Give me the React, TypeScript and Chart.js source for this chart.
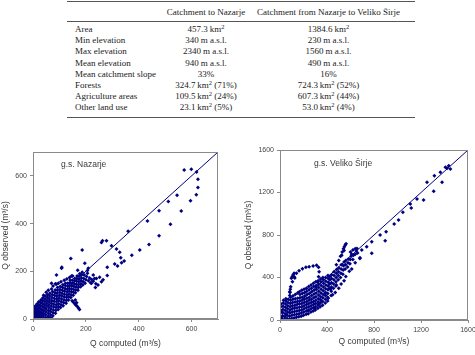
import { useEffect, useRef } from "react";
import { Chart, registerables } from "chart.js";

Chart.register(...registerables);

const NAVY = "#000080";
const AXIS_GREY = "#8a8a8a";
const TEXT_GREY = "#3a3a3a";

// ---- catchment characteristics table ----
const tableHeaders = ["Catchment to Nazarje", "Catchment from Nazarje to Veliko Širje"];
const rowLabels = [
  "Area",
  "Min elevation",
  "Max elevation",
  "Mean elevation",
  "Mean catchment slope",
  "Forests",
  "Agriculture areas",
  "Other land use",
];
const nazarjeStats = [
  "457.3\u2009km²",
  "340\u2009m a.s.l.",
  "2340\u2009m a.s.l.",
  "940\u2009m a.s.l.",
  "33%",
  "324.7\u2009km² (71%)",
  "109.5\u2009km² (24%)",
  "23.1\u2009km² (5%)",
];
const velikoStats = [
  "1384.6\u2009km²",
  "230\u2009m a.s.l.",
  "1560\u2009m a.s.l.",
  "490\u2009m a.s.l.",
  "16%",
  "724.3\u2009km² (52%)",
  "607.3\u2009km² (44%)",
  "53.0\u2009km² (4%)",
];

// ---- discharge scatter data: [Q computed, Q observed] in m3/s ----
const stationNames = ["g.s. Nazarje", "g.s. Veliko Širje"];
const axisMax = [700, 1600];
const axisStep = [200, 400];

const nazarjePairs: number[][] = [
  [1, 2], [2, 10], [3, 20], [2, 30], [4, 40], [3, 50], [6, 5], [7, 15], [8, 26], [8, 36], [9, 46], [10, 56],
  [11, 3], [12, 12], [12, 22], [14, 32], [15, 42], [15, 54], [16, 64], [17, 6], [18, 16], [19, 26], [20, 36],
  [21, 48], [22, 60], [22, 72], [24, 2], [24, 12], [26, 22], [26, 32], [27, 44], [28, 56], [29, 68], [30, 80],
  [31, 8], [32, 18], [33, 28], [34, 40], [35, 52], [36, 64], [36, 76], [37, 88], [38, 3], [39, 14], [40, 24],
  [41, 36], [42, 48], [43, 60], [44, 72], [45, 84], [46, 96], [47, 6], [48, 18], [49, 30], [50, 42], [51, 54],
  [52, 66], [53, 78], [54, 90], [55, 102], [56, 2], [57, 12], [58, 24], [59, 36], [60, 48], [60, 60], [61, 72],
  [62, 84], [63, 96], [64, 108], [65, 6], [66, 18], [67, 30], [68, 42], [69, 54], [70, 66], [71, 78], [72, 90],
  [73, 102], [74, 114], [75, 14], [76, 26], [77, 38], [78, 50], [79, 62], [80, 74], [81, 86], [82, 98], [83, 110],
  [84, 122], [85, 24], [86, 36], [87, 48], [88, 60], [89, 72], [90, 84], [90, 96], [91, 108], [92, 120], [93, 132],
  [95, 40], [96, 52], [97, 64], [98, 76], [99, 88], [100, 100], [101, 112], [102, 124], [103, 136], [104, 48],
  [106, 60], [107, 72], [108, 84], [109, 96], [110, 108], [111, 120], [112, 132], [113, 144], [114, 56], [116, 68],
  [117, 80], [118, 92], [119, 104], [120, 116], [121, 128], [122, 140], [123, 150], [125, 66], [126, 78], [127, 90],
  [128, 102], [129, 114], [130, 126], [131, 138], [132, 150], [134, 80], [135, 92], [136, 104], [137, 116],
  [138, 128], [139, 140], [140, 152], [141, 162], [143, 90], [144, 102], [145, 114], [146, 126], [147, 138],
  [148, 150], [149, 162], [152, 100], [153, 112], [154, 124], [155, 136], [156, 148], [157, 160], [158, 170],
  [160, 110], [162, 122], [163, 134], [164, 146], [165, 158], [166, 170], [167, 180], [170, 120], [171, 132],
  [172, 144], [173, 156], [174, 168], [175, 180], [177, 190], [180, 135], [181, 148], [182, 160], [183, 172],
  [184, 184], [186, 196], [188, 142], [190, 156], [192, 170], [194, 184], [197, 150], [200, 165], [203, 178],
  [206, 192], [210, 160], [214, 172], [218, 152], [222, 166], [228, 158], [233, 170], [238, 148], [236, 132],
  [148, 76], [153, 70], [158, 64], [163, 58], [168, 52], [172, 46], [176, 40], [160, 80], [165, 68],
  [40, 100], [50, 112], [58, 120], [70, 126], [76, 138], [88, 146], [96, 150], [106, 156], [118, 162],
  [128, 168], [138, 174], [150, 180], [50, 0], [60, 2], [70, 4], [70, 150], [85, 148],
  [89, 184], [109, 217], [108, 213], [143, 254], [186, 289], [146, 180], [169, 204], [196, 234], [209, 213],
  [228, 184], [246, 143], [259, 156], [221, 150], [240, 170], [252, 175], [265, 165], [206, 203],
  [263, 328], [278, 328], [259, 321], [297, 307], [316, 293], [328, 280], [332, 257], [345, 243], [335, 236],
  [320, 222], [309, 231], [281, 217], [281, 182], [374, 267], [404, 289], [439, 312], [477, 349], [360, 368],
  [433, 411], [520, 397], [477, 454], [561, 453], [512, 492], [545, 519], [596, 496], [618, 521], [624, 551],
  [624, 586], [619, 616], [599, 628], [572, 625],
];

const velikoPairs: number[][] = [
  [2, 5], [4, 35], [3, 65], [5, 95], [6, 125], [8, 150], [10, 20], [9, 80], [20, 10], [22, 40], [24, 70],
  [25, 100], [26, 130], [28, 160], [30, 185], [40, 5], [42, 30], [44, 60], [45, 90], [46, 120], [48, 150],
  [50, 180], [50, 200], [60, 15], [62, 45], [64, 75], [65, 105], [66, 135], [68, 165], [70, 195], [80, 8],
  [82, 35], [84, 65], [85, 95], [86, 125], [88, 155], [90, 185], [90, 215], [100, 15], [102, 45], [104, 75],
  [105, 105], [106, 135], [108, 165], [110, 195], [110, 225], [120, 20], [122, 50], [124, 80], [125, 110],
  [126, 140], [128, 170], [130, 200], [130, 240], [140, 25], [142, 55], [144, 85], [145, 115], [146, 145],
  [148, 175], [150, 205], [150, 255], [160, 30], [162, 60], [164, 90], [165, 120], [166, 150], [168, 180],
  [170, 210], [170, 240], [165, 265], [180, 35], [182, 65], [184, 95], [185, 125], [186, 155], [188, 185],
  [190, 215], [190, 250], [185, 280], [200, 45], [202, 75], [204, 105], [205, 135], [206, 165], [208, 195],
  [210, 225], [210, 260], [205, 290], [222, 55], [224, 85], [225, 115], [226, 145], [228, 175], [230, 205],
  [230, 240], [228, 270], [225, 300], [240, 60], [244, 95], [245, 125], [246, 155], [248, 185], [250, 215],
  [250, 250], [248, 285], [245, 315], [262, 75], [264, 105], [265, 135], [266, 165], [268, 195], [270, 230],
  [270, 265], [268, 300], [265, 330], [282, 85], [284, 115], [285, 145], [286, 175], [288, 210], [290, 245],
  [290, 280], [288, 315], [285, 345], [300, 95], [302, 125], [304, 155], [305, 185], [306, 220], [308, 255],
  [310, 290], [308, 325], [305, 360], [322, 110], [324, 140], [325, 170], [326, 200], [328, 235], [330, 270],
  [330, 305], [328, 340], [325, 370], [342, 125], [344, 160], [345, 190], [346, 220], [348, 255], [350, 290],
  [350, 325], [348, 360], [345, 385], [362, 140], [364, 175], [365, 210], [366, 240], [368, 275], [370, 310],
  [370, 345], [368, 380], [365, 400], [385, 160], [386, 195], [387, 230], [388, 260], [389, 295], [390, 330],
  [390, 365], [388, 400], [405, 180], [406, 215], [407, 250], [408, 285], [409, 320], [410, 355], [410, 390],
  [408, 420], [420, 300], [422, 340], [424, 380], [425, 410], [435, 230], [436, 270], [437, 310], [438, 350],
  [439, 390], [440, 425], [455, 300], [456, 340], [458, 380], [460, 420], [460, 455], [475, 320], [476, 360],
  [478, 400], [480, 440], [482, 475], [495, 380], [496, 420], [498, 455], [500, 490], [515, 400], [518, 440],
  [520, 480], [522, 520], [535, 430], [538, 470], [540, 510], [545, 545], [555, 480], [558, 520], [560, 560],
  [575, 500], [578, 540], [582, 575], [595, 530], [598, 570], [605, 600], [620, 570], [625, 610], [640, 620],
  [650, 650], [660, 630],
  [239, 88], [297, 107], [410, 204], [448, 238], [470, 260], [500, 300], [520, 340], [545, 370], [560, 410],
  [590, 460], [610, 480], [640, 540], [680, 580], [380, 240], [350, 180], [330, 150], [430, 290], [480, 330],
  [480, 520], [500, 560], [515, 600], [530, 640], [540, 670], [548, 690], [555, 705], [562, 718], [545, 655],
  [525, 610], [600, 640], [620, 660], [640, 670], [655, 672], [610, 620],
  [83, 230], [85, 260], [88, 290], [91, 313], [106, 360], [120, 408], [140, 439], [162, 464], [191, 483],
  [220, 496], [248, 502], [282, 508], [311, 515], [328, 496], [333, 455], [328, 408], [320, 360], [305, 313],
  [97, 392], [105, 410], [112, 425], [120, 440], [126, 395], [83, 266],
  [681, 587], [696, 659], [738, 690], [781, 628], [781, 737], [852, 800], [895, 746], [903, 831], [972, 904],
  [1009, 941], [1046, 1014], [1109, 1092], [1117, 1054], [1166, 1139], [1222, 1129], [1251, 1296],
  [1308, 1211], [1314, 1358], [1365, 1390], [1379, 1296], [1408, 1437], [1422, 1428], [1436, 1452],
  [1450, 1421],
];

type PanelSpec = {
  pairs: number[][];
  name: string;
  max: number;
  step: number;
  yWidth: number;
  xHeight: number;
  padTop: number;
  padRight: number;
  yTitlePad: number;
  xTitlePad: number;
  labelDx: number;
  labelDy: number;
};

const panelFrame = {
  id: "panelFrame",
  afterDraw(chart: any, _args: any, opts: any) {
    const { ctx, chartArea } = chart;
    const { left, top, right, bottom } = chartArea;
    ctx.save();
    ctx.strokeStyle = AXIS_GREY;
    ctx.lineWidth = 1;
    ctx.strokeRect(Math.round(left) + 0.5, Math.round(top) + 0.5, Math.round(right - left) - 1, Math.round(bottom - top) - 1);
    ctx.fillStyle = TEXT_GREY;
    ctx.font = "8.5px 'Liberation Sans', Arial, sans-serif";
    ctx.textBaseline = "middle";
    ctx.textAlign = "left";
    ctx.fillText(opts.text, left + opts.dx, top + opts.dy);
    ctx.restore();
  },
};

function ScatterPanel({ spec, left, top }: { spec: PanelSpec; left: number; top: number }) {
  const ref = useRef<HTMLCanvasElement | null>(null);
  useEffect(() => {
    if (!ref.current) return;
    const tickFont = { family: "'Liberation Sans', Arial, sans-serif", size: 7 };
    const titleFont = { family: "'Liberation Sans', Arial, sans-serif", size: 8.5 };
    // keep only the round steps (0, step, 2·step, …); the axis end is not labelled
    const keepSteps = (s: any) => {
      s.ticks = s.ticks.filter((t: any) => t.value % spec.step === 0);
    };
    const chart = new Chart(ref.current, {
      type: "scatter",
      data: {
        datasets: [
          {
            type: "scatter",
            data: spec.pairs.map(([x, y]) => ({ x, y })),
            pointStyle: "rectRot",
            pointRadius: 2,
            backgroundColor: NAVY,
            borderColor: NAVY,
            borderWidth: 0,
          },
          {
            type: "line",
            data: [
              { x: 0, y: 0 },
              { x: spec.max, y: spec.max },
            ],
            borderColor: NAVY,
            borderWidth: 1,
            pointRadius: 0,
            fill: false,
          },
        ],
      } as any,
      options: {
        animation: false,
        responsive: false,
        devicePixelRatio: 1,
        layout: { padding: { left: 0, top: spec.padTop, right: spec.padRight, bottom: 0 } },
        plugins: {
          legend: { display: false },
          tooltip: { enabled: false },
          panelFrame: { text: spec.name, dx: spec.labelDx, dy: spec.labelDy },
        } as any,
        scales: {
          x: {
            type: "linear",
            min: 0,
            max: spec.max,
            afterBuildTicks: keepSteps,
            ticks: {
              stepSize: spec.step,
              color: "#444",
              font: tickFont,
              padding: 3,
              maxRotation: 0,
              autoSkip: false,
              callback: (v: any) => String(v),
            },
            grid: { display: true, drawOnChartArea: false, drawTicks: true, tickLength: 3, color: AXIS_GREY },
            border: { display: true, color: AXIS_GREY },
            title: {
              display: true,
              text: "Q computed (m³/s)",
              color: TEXT_GREY,
              font: titleFont,
              padding: { top: 0, bottom: spec.xTitlePad },
            },
            afterFit: (s: any) => {
              s.height = spec.xHeight;
              s.paddingLeft = 0;
              s.paddingRight = 0;
            },
          },
          y: {
            type: "linear",
            min: 0,
            max: spec.max,
            afterBuildTicks: keepSteps,
            ticks: {
              stepSize: spec.step,
              color: "#444",
              font: tickFont,
              padding: 3,
              autoSkip: false,
              callback: (v: any) => String(v),
            },
            grid: { display: true, drawOnChartArea: false, drawTicks: true, tickLength: 3, color: AXIS_GREY },
            border: { display: true, color: AXIS_GREY },
            title: {
              display: true,
              text: "Q observed (m³/s)",
              color: TEXT_GREY,
              font: titleFont,
              padding: { top: spec.yTitlePad, bottom: 0 },
            },
            afterFit: (s: any) => {
              s.width = spec.yWidth;
              s.paddingTop = 0;
              s.paddingBottom = 0;
            },
          },
        },
      } as any,
      plugins: [panelFrame],
    });
    return () => chart.destroy();
  }, [spec]);
  return (
    <canvas
      ref={ref}
      width={235}
      height={215}
      style={{ position: "absolute", left, top, width: 235, height: 215 }}
    />
  );
}

const panels: PanelSpec[] = [
  {
    pairs: nazarjePairs,
    name: stationNames[0],
    max: axisMax[0],
    step: axisStep[0],
    yWidth: 33,
    xHeight: 36,
    padTop: 12,
    padRight: 17,
    yTitlePad: 1,
    xTitlePad: 6,
    labelDx: 28,
    labelDy: 13,
  },
  {
    pairs: velikoPairs,
    name: stationNames[1],
    max: axisMax[1],
    step: axisStep[1],
    yWidth: 40,
    xHeight: 35,
    padTop: 10,
    padRight: 7,
    yTitlePad: 4,
    xTitlePad: 8,
    labelDx: 34,
    labelDy: 14,
  },
];

function withSup(text: string) {
  const parts = text.split("²");
  const out: any[] = [];
  parts.forEach((p, i) => {
    out.push(<span key={"t" + i}>{p}</span>);
    if (i < parts.length - 1)
      out.push(
        <sup key={"s" + i} style={{ fontSize: "0.72em", verticalAlign: "0.42em", lineHeight: 0 }}>
          2
        </sup>
      );
  });
  return out;
}

function StatsTable() {
  const rowTop = (i: number) => 23.8 + i * 11.24;
  const rule = (y: number) => (
    <div style={{ position: "absolute", left: 67, top: y, width: 348, height: 1, background: "#555" }} />
  );
  const cell = (text: string, center: number, top: number, w: number, key: string) => (
    <div
      key={key}
      style={{ position: "absolute", left: center - w / 2, top, width: w, textAlign: "center", whiteSpace: "nowrap" }}
    >
      {withSup(text)}
    </div>
  );
  return (
    <div
      style={{
        position: "absolute",
        left: 0,
        top: 0,
        width: 475,
        height: 125,
        fontFamily: "'Liberation Serif', 'Times New Roman', serif",
        fontSize: 9,
        lineHeight: "11px",
        color: "#222",
      }}
    >
      {rule(1)}
      {cell(tableHeaders[0], 206, 6.8, 110, "h0")}
      {cell(tableHeaders[1], 328.5, 6.8, 180, "h1")}
      {rule(21)}
      {rowLabels.map((label, i) => (
        <div key={"l" + i} style={{ position: "absolute", left: 75, top: rowTop(i), whiteSpace: "nowrap" }}>
          {label}
        </div>
      ))}
      {nazarjeStats.map((v, i) => cell(v, 206, rowTop(i), 110, "n" + i))}
      {velikoStats.map((v, i) => cell(v, 328.5, rowTop(i), 180, "v" + i))}
      {rule(117)}
    </div>
  );
}

export default function App() {
  return (
    <div style={{ position: "absolute", left: 0, top: 0, width: 475, height: 355, background: "#fff", overflow: "hidden" }}>
      <StatsTable />
      <ScatterPanel spec={panels[0]} left={0} top={140} />
      <ScatterPanel spec={panels[1]} left={240} top={140} />
    </div>
  );
}
